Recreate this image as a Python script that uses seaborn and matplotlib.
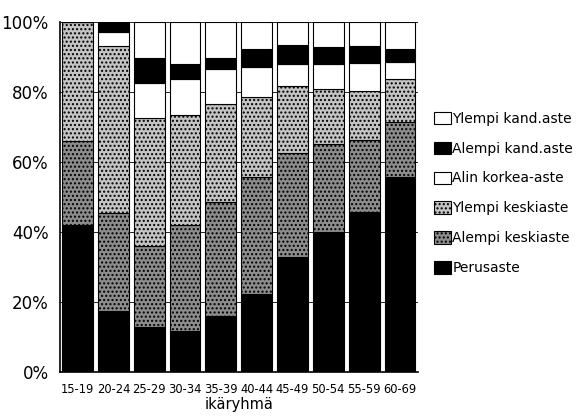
import matplotlib
matplotlib.use("Agg")
import matplotlib.pyplot as plt
import numpy as np
import seaborn as sns
from matplotlib.patches import Patch
from matplotlib.ticker import PercentFormatter

sns.set_theme(style="white")
plt.rcParams["font.family"] = ["Liberation Sans Narrow", "DejaVu Sans"]
plt.rcParams.update({"text.color": "black", "axes.labelcolor": "black",
                     "xtick.color": "black", "ytick.color": "black"})

# age groups
ages = ["15-19", "20-24", "25-29", "30-34", "35-39", "40-44", "45-49", "50-54", "55-59", "60-69"]

# shares (%) by education level, bottom to top
perusaste = [42, 17.4, 12.8, 11.7, 16, 22.2, 32.8, 39.9, 45.6, 55.6]
alempi_keski = [24, 27.9, 23.1, 30.2, 32.7, 33.4, 29.9, 25.1, 20.8, 15.9]
ylempi_keski = [34, 47.9, 36.7, 31.6, 27.9, 23, 19.1, 15.9, 13.9, 12.3]
alin_korkea = [0, 4, 10, 10.3, 10, 8.6, 6.2, 7.1, 8, 4.8]
alempi_kand = [0, 2.8, 7.1, 4.2, 3.1, 5.1, 5.4, 4.9, 4.9, 3.7]
ylempi_kand = [0, 0, 10.3, 12, 10.3, 7.7, 6.6, 7.1, 6.8, 7.7]

series = [
    ("Perusaste", perusaste, "black", None),
    ("Alempi keskiaste", alempi_keski, "#8c8c8c", "...."),
    ("Ylempi keskiaste", ylempi_keski, "#c4c4c4", "...."),
    ("Alin korkea-aste", alin_korkea, "white", None),
    ("Alempi kand.aste", alempi_kand, "black", None),
    ("Ylempi kand.aste", ylempi_kand, "white", None),
]

fig = plt.figure(figsize=(5.86, 4.16), dpi=100)
ax = fig.add_axes([0.102, 0.106, 0.611, 0.841])

bottom = np.zeros(len(ages))
handles = []
for name, vals, color, hatch in series:
    vals = np.array(vals, dtype=float)
    sns.barplot(x=ages, y=vals, bottom=bottom, color=color, width=0.86,
                edgecolor="black", linewidth=0.8, hatch=hatch,
                saturation=1, ax=ax, zorder=2)
    bottom = bottom + vals
    handles.append(Patch(facecolor=color, edgecolor="black", hatch=hatch,
                         linewidth=0.8, label=name))

ax.set_ylim(0, 100)
ax.set_xlim(-0.5, len(ages) - 0.5)
ax.set_yticks(range(0, 101, 20))
ax.yaxis.set_major_formatter(PercentFormatter(decimals=0))
ax.yaxis.grid(True, color="black", linewidth=0.6, zorder=0)
ax.tick_params(axis="y", labelsize=12, pad=2)
ax.tick_params(axis="x", labelsize=8.3, pad=2)
ax.set_xlabel("ikäryhmä", fontsize=10.5, labelpad=1)
ax.set_ylabel("")
for side in ["top", "right"]:
    ax.spines[side].set_visible(False)
for side in ["left", "bottom"]:
    ax.spines[side].set_color("black")
    ax.spines[side].set_linewidth(1.2)

ax.legend(handles=handles[::-1], loc="center left", bbox_to_anchor=(1.03, 0.51),
          frameon=False, fontsize=10, handlelength=1.2, handleheight=1.0,
          handletextpad=0.1, labelspacing=1.15, borderaxespad=0)

fig.savefig("out.png", dpi=100)
